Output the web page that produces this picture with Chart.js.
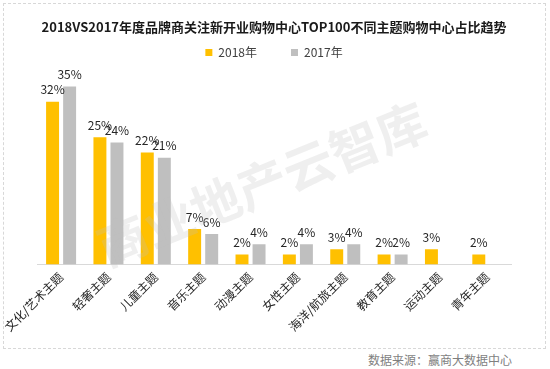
<!DOCTYPE html>
<html>
<head>
<meta charset="utf-8">
<script src="https://cdn.jsdelivr.net/npm/chart.js@4.4.1/dist/chart.umd.min.js"></script>
<style>
  html, body { margin: 0; padding: 0; background: #fff; }
  #wrap { position: relative; width: 550px; height: 369px; }
  #frame {
    position: absolute; left: 3px; top: 3px; width: 543px; height: 346px;
    border: 1px dashed #d8d8d8; box-sizing: border-box;
  }
  #box { position: absolute; left: 0; top: 0; width: 528px; height: 350px; }
  #source {
    position: absolute; right: 38px; top: 351px;
    font: 12px "Noto Sans CJK SC", sans-serif; color: #7f7f7f;
  }
</style>
</head>
<body>
<div id="wrap">
  <div id="frame"></div>
  <div id="box"><canvas id="chart"></canvas></div>
  <div id="source">数据来源：赢商大数据中心</div>
</div>
<script>
/* ── 데이터 ───────────────────────────── */
const TITLE      = '2018VS2017年度品牌商关注新开业购物中心TOP100不同主题购物中心占比趋势';
const CATEGORIES = ['文化/艺术主题', '轻奢主题', '儿童主题', '音乐主题', '动漫主题',
                    '女性主题', '海洋/航旅主题', '教育主题', '运动主题', '青年主题'];
const SERIES_2018 = [32, 25, 22, 7, 2, 2, 3, 2, 3, 2];
const SERIES_2017 = [35, 24, 21, 6, 4, 4, 4, 2, null, null];

/* ── 색상 ─────────────────────────────── */
const COLOR_2018 = '#FFC000';
const COLOR_2017 = '#BFBFBF';
const TEXT_COLOR = '#262626';
const FONT_CJK   = '"Noto Sans CJK SC", "Noto Sans", sans-serif';

/* 막대 위 % 라벨 */
const valueLabels = {
  id: 'valueLabels',
  afterDatasetsDraw(chart) {
    const ctx = chart.ctx;
    ctx.save();
    ctx.font = '12px ' + FONT_CJK;
    ctx.fillStyle = TEXT_COLOR;
    ctx.textAlign = 'center';
    ctx.textBaseline = 'bottom';
    chart.data.datasets.forEach((ds, i) => {
      chart.getDatasetMeta(i).data.forEach((bar, j) => {
        const v = ds.data[j];
        if (v === null || v === undefined) return;
        ctx.fillText(v + '%', bar.x, bar.y - 6);
      });
    });
    ctx.restore();
  }
};

/* 워터마크 */
const watermark = {
  id: 'watermark',
  afterDatasetsDraw(chart) {
    const ctx = chart.ctx;
    ctx.save();
    ctx.translate(262, 184);
    ctx.rotate(-22 * Math.PI / 180);
    ctx.font = 'bold 50px ' + FONT_CJK;
    ctx.fillStyle = 'rgba(190,190,190,0.25)';
    ctx.textAlign = 'center';
    ctx.textBaseline = 'middle';
    ctx.fillText('商业地产云智库', 0, 0);
    ctx.restore();
  }
};

new Chart(document.getElementById('chart'), {
  type: 'bar',
  data: {
    labels: CATEGORIES,
    datasets: [
      { label: '2018年', data: SERIES_2018, backgroundColor: COLOR_2018,
        barPercentage: 0.76, categoryPercentage: 0.72 },
      { label: '2017年', data: SERIES_2017, backgroundColor: COLOR_2017,
        barPercentage: 0.76, categoryPercentage: 0.72 }
    ]
  },
  options: {
    responsive: true,
    maintainAspectRatio: false,
    animation: false,
    layout: { padding: { top: 19, left: 37, right: 17, bottom: 11 } },
    plugins: {
      title: {
        display: true,
        text: TITLE,
        color: '#1a1a1a',
        font: { family: FONT_CJK, size: 13, weight: 'bold' },
        padding: { top: 0, bottom: 2 }
      },
      legend: {
        labels: {
          color: '#404040',
          font: { family: FONT_CJK, size: 12 },
          boxWidth: 7, boxHeight: 7,
          padding: 10,
          /* 항목 사이 간격: 첫 항목 뒤에 공백 추가 */
          generateLabels(chart) {
            const items = Chart.defaults.plugins.legend.labels.generateLabels(chart);
            items[0].text = items[0].text + '\u2003\u2003';
            return items;
          }
        }
      },
      tooltip: { enabled: false }
    },
    scales: {
      x: {
        grid: { display: false, drawTicks: false },
        border: { color: '#d9d9d9' },
        ticks: {
          color: TEXT_COLOR,
          font: { family: FONT_CJK, size: 12 },
          minRotation: 45, maxRotation: 45,
          padding: 5
        }
      },
      y: {
        display: false,
        min: 0,
        max: 38.5
      }
    }
  },
  plugins: [valueLabels, watermark]
});
</script>
</body>
</html>
